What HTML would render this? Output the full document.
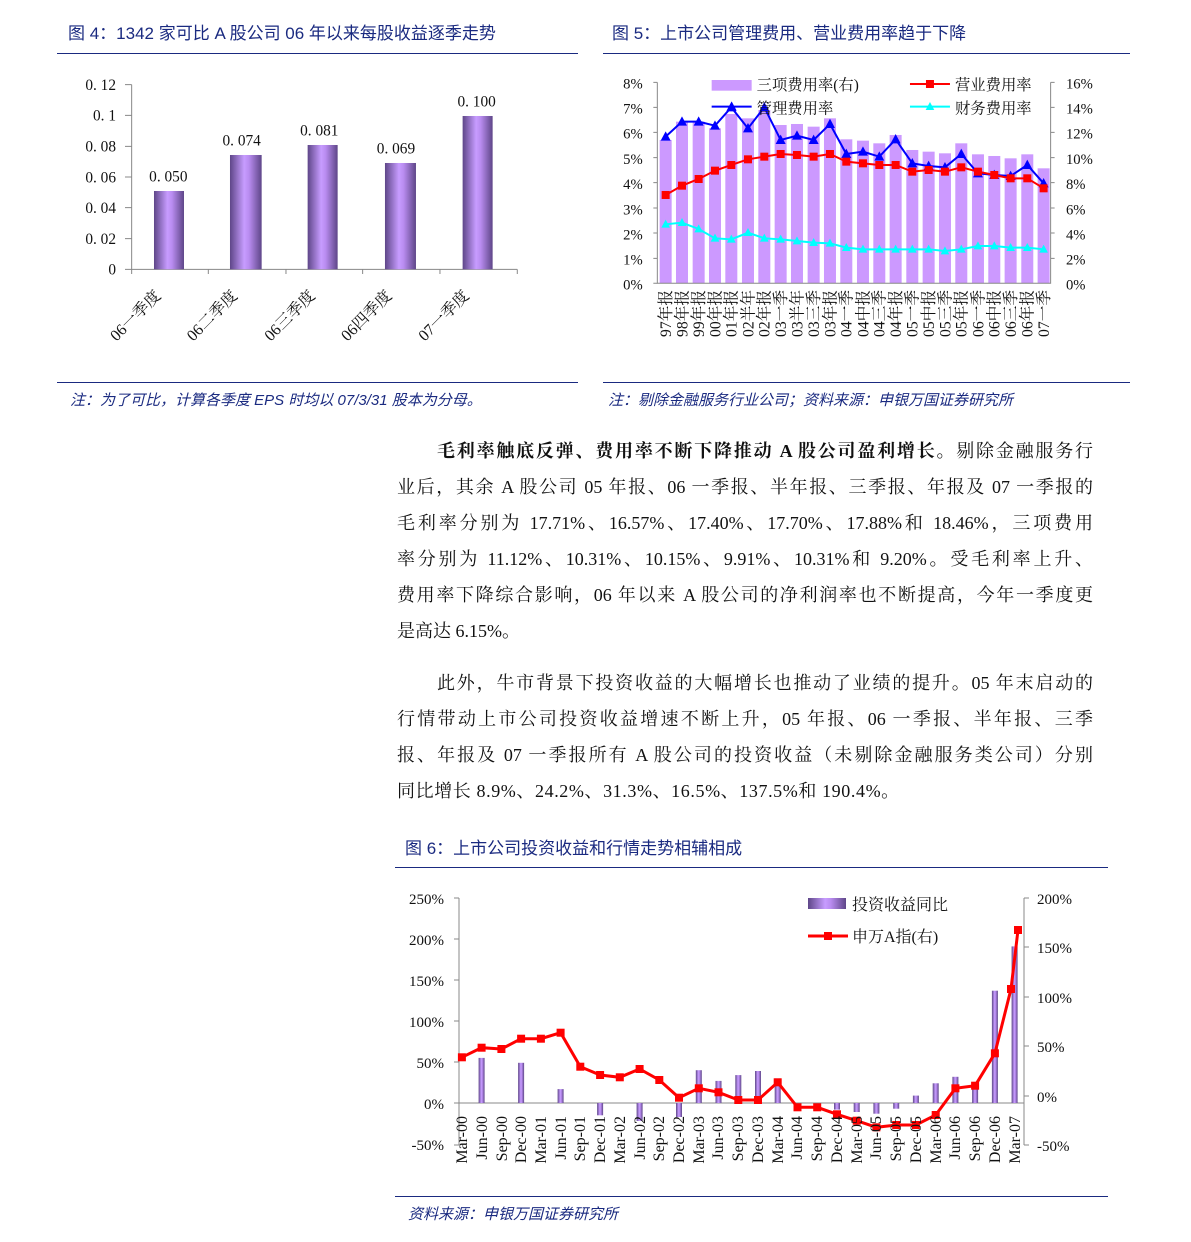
<!DOCTYPE html>
<html><head><meta charset="utf-8">
<style>
body{margin:0;background:#fff;width:1191px;height:1242px;position:relative;overflow:hidden;font-family:"Liberation Serif","Noto Serif CJK SC",serif;}
.t{position:absolute;color:#1a2a80;font-size:17px;font-family:"Liberation Sans","Noto Sans CJK SC",sans-serif;white-space:nowrap}
.n{position:absolute;color:#1a2a80;font-size:15px;font-style:italic;font-family:"Liberation Sans","Noto Sans CJK SC",sans-serif;white-space:nowrap}
.hl{position:absolute;height:1px;background:#1a2a80}
.p{position:absolute;left:397px;width:696px;font-size:18px;color:#111;white-space:nowrap;text-align:justify;text-align-last:justify;font-family:"Liberation Serif","Noto Serif CJK SC",serif;line-height:22px}
svg{position:absolute;left:0;top:0}
</style></head><body>
<div class="t" style="left:68px;top:19px">图 4：1342 家可比 A 股公司 06 年以来每股收益逐季走势</div>
<div class="hl" style="left:57px;top:53px;width:521px"></div>
<div class="t" style="left:612px;top:19px">图 5：上市公司管理费用、营业费用率趋于下降</div>
<div class="hl" style="left:603px;top:53px;width:527px"></div>
<div class="hl" style="left:57px;top:382px;width:521px"></div>
<div class="hl" style="left:603px;top:382px;width:527px"></div>
<div class="n" style="left:70px;top:389px">注：为了可比，计算各季度 EPS 时均以 07/3/31 股本为分母。</div>
<div class="n" style="left:608px;top:389px">注：剔除金融服务行业公司；资料来源：申银万国证券研究所</div>

<div class="p" style="top:440px;text-indent:40px"><b>毛利率触底反弹、费用率不断下降推动 A 股公司盈利增长</b>。剔除金融服务行</div>
<div class="p" style="top:476px">业后，其余 A 股公司 05 年报、06 一季报、半年报、三季报、年报及 07 一季报的</div>
<div class="p" style="top:512px">毛利率分别为 17.71%、16.57%、17.40%、17.70%、17.88%和 18.46%，三项费用</div>
<div class="p" style="top:548px">率分别为 11.12%、10.31%、10.15%、9.91%、10.31%和 9.20%。受毛利率上升、</div>
<div class="p" style="top:584px">费用率下降综合影响，06 年以来 A 股公司的净利润率也不断提高，今年一季度更</div>
<div class="p" style="top:620px;text-align-last:left">是高达 6.15%。</div>
<div class="p" style="top:672px;text-indent:40px">此外，牛市背景下投资收益的大幅增长也推动了业绩的提升。05 年末启动的</div>
<div class="p" style="top:708px">行情带动上市公司投资收益增速不断上升，05 年报、06 一季报、半年报、三季</div>
<div class="p" style="top:744px">报、年报及 07 一季报所有 A 股公司的投资收益（未剔除金融服务类公司）分别</div>
<div class="p" style="top:780px;text-align-last:left;letter-spacing:0.6px">同比增长 8.9%、24.2%、31.3%、16.5%、137.5%和 190.4%。</div>

<div class="t" style="left:405px;top:834px">图 6：上市公司投资收益和行情走势相辅相成</div>
<div class="hl" style="left:395px;top:867px;width:713px"></div>
<div class="hl" style="left:395px;top:1196px;width:713px"></div>
<div class="n" style="left:408px;top:1203px">资料来源：申银万国证券研究所</div>

<svg width="1191" height="1242" viewBox="0 0 1191 1242" font-family="Liberation Serif, Noto Serif CJK SC, serif">
<defs>
<linearGradient id="pg" x1="0" x2="1" y1="0" y2="0">
<stop offset="0" stop-color="#5e4688"/><stop offset="0.45" stop-color="#c79cff"/><stop offset="0.6" stop-color="#b98cf0"/><stop offset="1" stop-color="#5e4688"/>
</linearGradient>
</defs>
<!-- Chart 4 -->
<g transform="translate(60,70) scale(0.3333)" font-size="46" fill="#111">
<g stroke="#888" stroke-width="3" fill="none">
<path d="M215,44V598H1372"/>
<path d="M195,44H215M195,136H215M195,229H215M195,321H215M195,413H215M195,506H215M195,598H215"/>
<path d="M215,598V612M445,598V612M678,598V612M908,598V612M1140,598V612M1372,598V612"/>
</g>
<g text-anchor="end">
<text x="168" y="60">0. 12</text><text x="168" y="152">0. 1</text><text x="168" y="245">0. 08</text><text x="168" y="337">0. 06</text><text x="168" y="429">0. 04</text><text x="168" y="522">0. 02</text><text x="168" y="614">0</text>
</g>
<rect x="282" y="363" width="90" height="235" fill="url(#pg)"/>
<rect x="510" y="255" width="95" height="343" fill="url(#pg)"/>
<rect x="743" y="225" width="90" height="373" fill="url(#pg)"/>
<rect x="975" y="279" width="93" height="319" fill="url(#pg)"/>
<rect x="1208" y="138" width="90" height="460" fill="url(#pg)"/>
<g text-anchor="middle">
<text x="325" y="335">0. 050</text><text x="545" y="227">0. 074</text><text x="778" y="197">0. 081</text><text x="1008" y="251">0. 069</text><text x="1250" y="110">0. 100</text>
</g>
<g text-anchor="end" font-size="48">
<text transform="translate(305,680) rotate(-45)">06一季度</text>
<text transform="translate(535,680) rotate(-45)">06二季度</text>
<text transform="translate(768,680) rotate(-45)">06三季度</text>
<text transform="translate(998,680) rotate(-45)">06四季度</text>
<text transform="translate(1230,680) rotate(-45)">07一季度</text>
</g>
</g>

<!-- Chart 5 -->
<g transform="translate(600,60) scale(0.3333)" font-size="44" fill="#111">
<g fill="#cc99ff">
<rect x="179" y="240" width="36" height="430"/><rect x="228" y="185" width="36" height="485"/><rect x="278" y="185" width="36" height="485"/><rect x="327" y="205" width="36" height="465"/><rect x="376" y="162" width="36" height="508"/><rect x="426" y="175" width="36" height="495"/><rect x="475" y="150" width="36" height="520"/><rect x="524" y="195" width="36" height="475"/><rect x="573" y="192" width="36" height="478"/><rect x="623" y="200" width="36" height="470"/><rect x="672" y="175" width="36" height="495"/><rect x="721" y="238" width="36" height="432"/><rect x="771" y="242" width="36" height="428"/><rect x="820" y="250" width="36" height="420"/><rect x="869" y="225" width="36" height="445"/><rect x="919" y="270" width="36" height="400"/><rect x="968" y="275" width="36" height="395"/><rect x="1017" y="280" width="36" height="390"/><rect x="1066" y="250" width="36" height="420"/><rect x="1116" y="283" width="36" height="387"/><rect x="1165" y="288" width="36" height="382"/><rect x="1214" y="295" width="36" height="375"/><rect x="1264" y="283" width="36" height="387"/><rect x="1313" y="325" width="36" height="345"/>
</g>
<g stroke="#888" stroke-width="3" fill="none">
<path d="M172,67V670H1352V67"/>
<path d="M160,67H172M160,142H172M160,217H172M160,293H172M160,368H172M160,444H172M160,519H172M160,595H172M160,670H172"/>
<path d="M1352,67H1364M1352,142H1364M1352,217H1364M1352,293H1364M1352,368H1364M1352,444H1364M1352,519H1364M1352,595H1364"/>
</g>
<g text-anchor="end">
<text x="128" y="86">8%</text><text x="128" y="161">7%</text><text x="128" y="236">6%</text><text x="128" y="312">5%</text><text x="128" y="387">4%</text><text x="128" y="463">3%</text><text x="128" y="538">2%</text><text x="128" y="614">1%</text><text x="128" y="689">0%</text>
</g>
<g>
<text x="1398" y="86">16%</text><text x="1398" y="161">14%</text><text x="1398" y="236">12%</text><text x="1398" y="312">10%</text><text x="1398" y="387">8%</text><text x="1398" y="463">6%</text><text x="1398" y="538">4%</text><text x="1398" y="614">2%</text><text x="1398" y="689">0%</text>
</g>
<polyline fill="none" stroke="#0000ff" stroke-width="6" points="197,230 246,185 296,185 345,197 394,142 444,205 493,142 542,240 591,227 641,240 690,192 739,282 789,275 838,290 887,238 937,310 986,318 1035,322 1084,282 1134,340 1183,345 1232,348 1282,315 1331,370"/>
<g fill="#0000ff">
<path d="M197,214l-15,28h30z M246,169l-15,28h30z M296,169l-15,28h30z M345,181l-15,28h30z M394,126l-15,28h30z M444,189l-15,28h30z M493,126l-15,28h30z M542,224l-15,28h30z M591,211l-15,28h30z M641,224l-15,28h30z M690,176l-15,28h30z M739,266l-15,28h30z M789,259l-15,28h30z M838,274l-15,28h30z M887,222l-15,28h30z M937,294l-15,28h30z M986,302l-15,28h30z M1035,306l-15,28h30z M1084,266l-15,28h30z M1134,324l-15,28h30z M1183,329l-15,28h30z M1232,332l-15,28h30z M1282,299l-15,28h30z M1331,354l-15,28h30z"/>
</g>
<polyline fill="none" stroke="#ff0000" stroke-width="6" points="197,405 246,377 296,357 345,332 394,315 444,298 493,290 542,282 591,285 641,290 690,282 739,305 789,310 838,315 887,315 937,335 986,330 1035,335 1084,322 1134,335 1183,345 1232,355 1282,355 1331,385"/>
<g fill="#ff0000">
<rect x="185" y="393" width="24" height="24"/><rect x="234" y="365" width="24" height="24"/><rect x="284" y="345" width="24" height="24"/><rect x="333" y="320" width="24" height="24"/><rect x="382" y="303" width="24" height="24"/><rect x="432" y="286" width="24" height="24"/><rect x="481" y="278" width="24" height="24"/><rect x="530" y="270" width="24" height="24"/><rect x="579" y="273" width="24" height="24"/><rect x="629" y="278" width="24" height="24"/><rect x="678" y="270" width="24" height="24"/><rect x="727" y="293" width="24" height="24"/><rect x="777" y="298" width="24" height="24"/><rect x="826" y="303" width="24" height="24"/><rect x="875" y="303" width="24" height="24"/><rect x="925" y="323" width="24" height="24"/><rect x="974" y="318" width="24" height="24"/><rect x="1023" y="323" width="24" height="24"/><rect x="1072" y="310" width="24" height="24"/><rect x="1122" y="323" width="24" height="24"/><rect x="1171" y="333" width="24" height="24"/><rect x="1220" y="343" width="24" height="24"/><rect x="1270" y="343" width="24" height="24"/><rect x="1319" y="373" width="24" height="24"/>
</g>
<polyline fill="none" stroke="#00ffff" stroke-width="6" points="197,493 246,488 296,507 345,535 394,538 444,518 493,535 542,538 591,543 641,548 690,550 739,563 789,568 838,568 887,568 937,568 986,568 1035,573 1084,568 1134,558 1183,558 1232,563 1282,563 1331,568"/>
<g fill="#00ffff">
<path d="M197,479l-13,24h26z M246,474l-13,24h26z M296,493l-13,24h26z M345,521l-13,24h26z M394,524l-13,24h26z M444,504l-13,24h26z M493,521l-13,24h26z M542,524l-13,24h26z M591,529l-13,24h26z M641,534l-13,24h26z M690,536l-13,24h26z M739,549l-13,24h26z M789,554l-13,24h26z M838,554l-13,24h26z M887,554l-13,24h26z M937,554l-13,24h26z M986,554l-13,24h26z M1035,559l-13,24h26z M1084,554l-13,24h26z M1134,544l-13,24h26z M1183,544l-13,24h26z M1232,549l-13,24h26z M1282,549l-13,24h26z M1331,554l-13,24h26z"/>
</g>
<!-- legend -->
<rect x="335" y="60" width="120" height="32" fill="#cc99ff"/>
<text x="470" y="90" font-size="46">三项费用率(右)</text>
<path d="M930,72H1050" stroke="#ff0000" stroke-width="6"/><rect x="978" y="60" width="24" height="24" fill="#ff0000"/>
<text x="1065" y="90" font-size="46">营业费用率</text>
<path d="M335,140H455" stroke="#0000ff" stroke-width="6"/><path d="M395,124l-15,28h30z" fill="#0000ff"/>
<text x="470" y="160" font-size="46">管理费用率</text>
<path d="M930,140H1050" stroke="#00ffff" stroke-width="6"/><path d="M990,126l-13,24h26z" fill="#00ffff"/>
<text x="1065" y="160" font-size="46">财务费用率</text>
<g text-anchor="end" font-size="47">
<text transform="translate(213,690) rotate(-90)">97年报</text><text transform="translate(262,690) rotate(-90)">98年报</text><text transform="translate(312,690) rotate(-90)">99年报</text><text transform="translate(361,690) rotate(-90)">00年报</text><text transform="translate(410,690) rotate(-90)">01年报</text><text transform="translate(460,690) rotate(-90)">02半年</text><text transform="translate(509,690) rotate(-90)">02年报</text><text transform="translate(558,690) rotate(-90)">03一季</text><text transform="translate(607,690) rotate(-90)">03半年</text><text transform="translate(657,690) rotate(-90)">03三季</text><text transform="translate(706,690) rotate(-90)">03年报</text><text transform="translate(755,690) rotate(-90)">04一季</text><text transform="translate(805,690) rotate(-90)">04中报</text><text transform="translate(854,690) rotate(-90)">04三季</text><text transform="translate(903,690) rotate(-90)">04年报</text><text transform="translate(953,690) rotate(-90)">05一季</text><text transform="translate(1002,690) rotate(-90)">05中报</text><text transform="translate(1051,690) rotate(-90)">05三季</text><text transform="translate(1100,690) rotate(-90)">05年报</text><text transform="translate(1150,690) rotate(-90)">06一季</text><text transform="translate(1199,690) rotate(-90)">06中报</text><text transform="translate(1248,690) rotate(-90)">06三季</text><text transform="translate(1298,690) rotate(-90)">06年报</text><text transform="translate(1347,690) rotate(-90)">07一季</text>
</g>
</g>

<!-- Chart 6 -->
<g font-size="15" fill="#111">
<g stroke="#888" stroke-width="1" fill="none">
<path d="M459,898V1145M454,898H459M454,939H459M454,980H459M454,1021H459M454,1062H459M454,1103H459M454,1145H459"/>
<path d="M459,1103H1024"/>
<path d="M1024,898V1145M1024,898H1029M1024,947H1029M1024,997H1029M1024,1046H1029M1024,1096H1029M1024,1145H1029"/>
</g>
<g text-anchor="end">
<text x="444" y="904">250%</text><text x="444" y="945">200%</text><text x="444" y="986">150%</text><text x="444" y="1027">100%</text><text x="444" y="1068">50%</text><text x="444" y="1109">0%</text><text x="444" y="1150">-50%</text>
</g>
<g>
<text x="1037" y="904">200%</text><text x="1037" y="953">150%</text><text x="1037" y="1003">100%</text><text x="1037" y="1052">50%</text><text x="1037" y="1102">0%</text><text x="1037" y="1151">-50%</text>
</g>
<g fill="url(#pg)">
<rect x="478.6" y="1057.9" width="6" height="45.1"/><rect x="518.1" y="1062.8" width="6" height="40.2"/><rect x="557.6" y="1089.1" width="6" height="13.9"/><rect x="597.1" y="1103" width="6" height="12.3"/><rect x="636.6" y="1103" width="6" height="18"/><rect x="676" y="1103" width="6" height="14"/><rect x="695.8" y="1070.2" width="6" height="32.8"/><rect x="715.5" y="1080.9" width="6" height="22.1"/><rect x="735.3" y="1075.1" width="6" height="27.9"/><rect x="755" y="1071" width="6" height="32"/><rect x="774.7" y="1078.4" width="6" height="24.6"/><rect x="834" y="1103" width="6" height="6.6"/><rect x="853.7" y="1103" width="6" height="9"/><rect x="873.4" y="1103" width="6" height="10.7"/><rect x="893.2" y="1103" width="6" height="5.7"/><rect x="912.9" y="1095.6" width="6" height="7.4"/><rect x="932.7" y="1083.3" width="6" height="19.7"/><rect x="952.4" y="1076.8" width="6" height="26.2"/><rect x="972.1" y="1085" width="6" height="18"/><rect x="991.9" y="990.7" width="6" height="112.3"/><rect x="1011.6" y="946.4" width="6" height="156.6"/>
</g>
<polyline fill="none" stroke="#ff0000" stroke-width="3" points="461.9,1057.3 481.6,1047.7 501.4,1049 521.1,1038.7 540.9,1038.7 560.6,1032.7 580.3,1066.7 600.1,1075 619.8,1077.3 639.6,1069 659.3,1080 679,1097.7 698.8,1088.3 718.5,1092.3 738.3,1100 758,1100 777.7,1082.3 797.5,1107.3 817.2,1107.3 837,1114.3 856.7,1120.7 876.4,1127.3 896.2,1125 915.9,1125 935.7,1115 955.4,1088.3 975.1,1085.7 994.9,1053.3 1011,989 1018,930"/>
<g fill="#ff0000">
<rect x="457.9" y="1053.3" width="8" height="8"/><rect x="477.6" y="1043.7" width="8" height="8"/><rect x="497.4" y="1045" width="8" height="8"/><rect x="517.1" y="1034.7" width="8" height="8"/><rect x="536.9" y="1034.7" width="8" height="8"/><rect x="556.6" y="1028.7" width="8" height="8"/><rect x="576.3" y="1062.7" width="8" height="8"/><rect x="596.1" y="1071" width="8" height="8"/><rect x="615.8" y="1073.3" width="8" height="8"/><rect x="635.6" y="1065" width="8" height="8"/><rect x="655.3" y="1076" width="8" height="8"/><rect x="675" y="1093.7" width="8" height="8"/><rect x="694.8" y="1084.3" width="8" height="8"/><rect x="714.5" y="1088.3" width="8" height="8"/><rect x="734.3" y="1096" width="8" height="8"/><rect x="754" y="1096" width="8" height="8"/><rect x="773.7" y="1078.3" width="8" height="8"/><rect x="793.5" y="1103.3" width="8" height="8"/><rect x="813.2" y="1103.3" width="8" height="8"/><rect x="833" y="1110.3" width="8" height="8"/><rect x="852.7" y="1116.7" width="8" height="8"/><rect x="872.4" y="1123.3" width="8" height="8"/><rect x="892.2" y="1121" width="8" height="8"/><rect x="911.9" y="1121" width="8" height="8"/><rect x="931.7" y="1111" width="8" height="8"/><rect x="951.4" y="1084.3" width="8" height="8"/><rect x="971.1" y="1081.7" width="8" height="8"/><rect x="990.9" y="1049.3" width="8" height="8"/><rect x="1007" y="985" width="8" height="8"/><rect x="1014" y="926" width="8" height="8"/>
</g>
<rect x="808" y="898" width="38" height="11" fill="url(#pg)"/>
<text x="852" y="910" font-size="16">投资收益同比</text>
<path d="M808,936H848" stroke="#ff0000" stroke-width="3"/><rect x="824" y="932" width="8" height="8" fill="#ff0000"/>
<text x="852" y="942" font-size="16">申万A指(右)</text>
<g text-anchor="end" font-size="16">
<text transform="translate(467,1116) rotate(-90)">Mar-00</text><text transform="translate(487,1116) rotate(-90)">Jun-00</text><text transform="translate(507,1116) rotate(-90)">Sep-00</text><text transform="translate(526,1116) rotate(-90)">Dec-00</text><text transform="translate(546,1116) rotate(-90)">Mar-01</text><text transform="translate(566,1116) rotate(-90)">Jun-01</text><text transform="translate(585,1116) rotate(-90)">Sep-01</text><text transform="translate(605,1116) rotate(-90)">Dec-01</text><text transform="translate(625,1116) rotate(-90)">Mar-02</text><text transform="translate(645,1116) rotate(-90)">Jun-02</text><text transform="translate(664,1116) rotate(-90)">Sep-02</text><text transform="translate(684,1116) rotate(-90)">Dec-02</text><text transform="translate(704,1116) rotate(-90)">Mar-03</text><text transform="translate(723,1116) rotate(-90)">Jun-03</text><text transform="translate(743,1116) rotate(-90)">Sep-03</text><text transform="translate(763,1116) rotate(-90)">Dec-03</text><text transform="translate(783,1116) rotate(-90)">Mar-04</text><text transform="translate(802,1116) rotate(-90)">Jun-04</text><text transform="translate(822,1116) rotate(-90)">Sep-04</text><text transform="translate(842,1116) rotate(-90)">Dec-04</text><text transform="translate(862,1116) rotate(-90)">Mar-05</text><text transform="translate(881,1116) rotate(-90)">Jun-05</text><text transform="translate(901,1116) rotate(-90)">Sep-05</text><text transform="translate(921,1116) rotate(-90)">Dec-05</text><text transform="translate(941,1116) rotate(-90)">Mar-06</text><text transform="translate(960,1116) rotate(-90)">Jun-06</text><text transform="translate(980,1116) rotate(-90)">Sep-06</text><text transform="translate(1000,1116) rotate(-90)">Dec-06</text><text transform="translate(1020,1116) rotate(-90)">Mar-07</text>
</g>
</g>
</svg>
</body></html>
